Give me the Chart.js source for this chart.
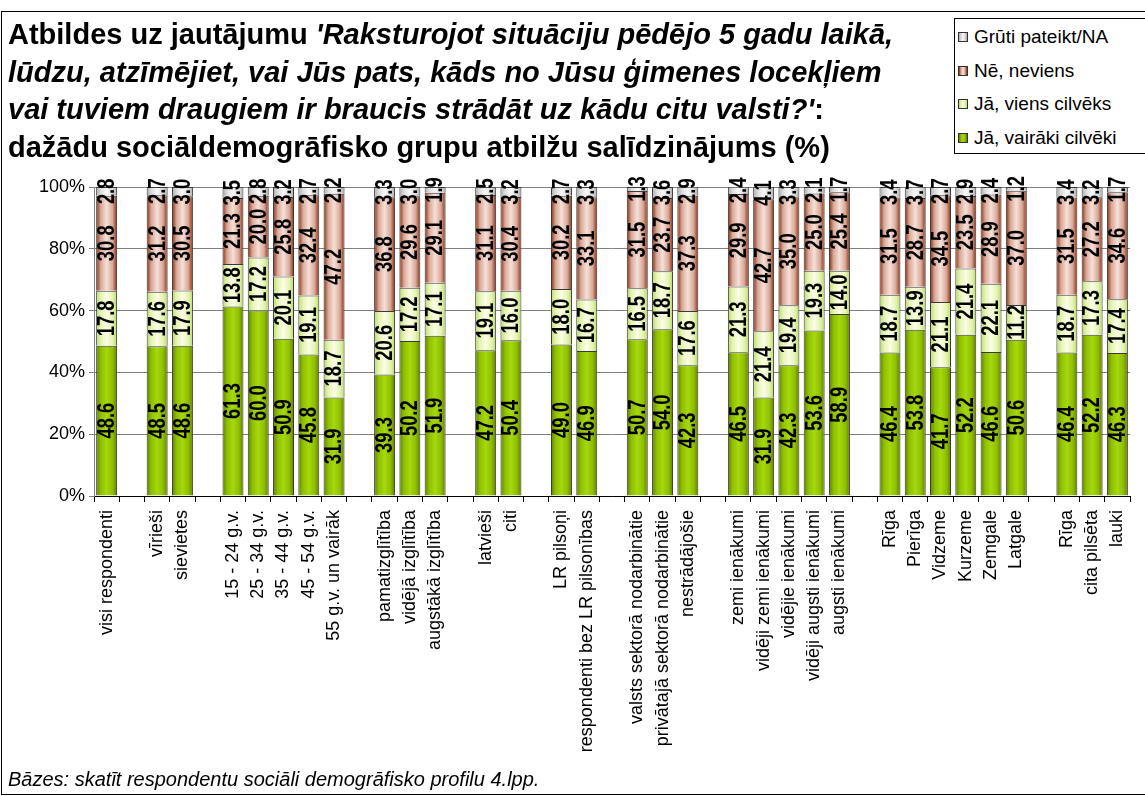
<!DOCTYPE html>
<html>
<head>
<meta charset="utf-8">
<script src="https://cdn.jsdelivr.net/npm/chart.js@4/dist/chart.umd.min.js"></script>
<style>
body{margin:0;overflow:hidden;background:#fff;font-family:Arial,"Liberation Sans",sans-serif;}
#wrap{position:relative;width:1145px;height:796px;overflow:hidden;}
#ramis{position:absolute;left:1px;top:11px;width:1200px;height:782px;border:1px solid #000;}
#grafiks{position:absolute;left:0;top:0;}
#virsraksts{position:absolute;left:8px;top:16px;font-weight:bold;font-size:29px;line-height:37.5px;white-space:nowrap;color:#000;}
#legenda{position:absolute;left:954px;top:18px;width:250px;height:134px;border:1px solid #000;background:#fff;}
.rinda{position:absolute;left:3px;height:20px;font-size:19px;line-height:20px;white-space:nowrap;}
.rinda span.kv{display:inline-block;width:8px;height:8px;border:1px solid #333;margin-right:6px;vertical-align:1px;}
#piezime{position:absolute;left:8px;top:768px;font-style:italic;font-size:20px;line-height:23px;white-space:nowrap;}
</style>
</head>
<body>
<div id="wrap">
<div id="ramis"></div>
<canvas id="grafiks" width="1147" height="796"></canvas>
<div id="virsraksts">
<div>Atbildes uz jautājumu <i>'Raksturojot situāciju pēdējo 5 gadu laikā,</i></div>
<div><i>lūdzu, atzīmējiet, vai Jūs pats, kāds no Jūsu ģimenes locekļiem</i></div>
<div><i>vai tuviem draugiem ir braucis strādāt uz kādu citu valsti?'</i>:</div>
<div>dažādu sociāldemogrāfisko grupu atbilžu salīdzinājums (%)</div>
</div>
<div id="legenda"></div>
<div id="piezime">Bāzes: skatīt respondentu sociāli demogrāfisko profilu 4.lpp.</div>
</div>
<script>
// kategorijas ('' = tukša vieta starp grupām)
const kategorijas = [
  'visi respondenti', '',
  'vīrieši', 'sievietes', '',
  '15 - 24 g.v.', '25 - 34 g.v.', '35 - 44 g.v.', '45 - 54 g.v.', '55 g.v. un vairāk', '',
  'pamatizglītība', 'vidējā izglītība', 'augstākā izglītība', '',
  'latvieši', 'citi', '',
  'LR pilsoņi', 'respondenti bez LR pilsonības', '',
  'valsts sektorā nodarbinātie', 'privātajā sektorā nodarbinātie', 'nestrādājošie', '',
  'zemi ienākumi', 'vidēji zemi ienākumi', 'vidējie ienākumi', 'vidēji augsti ienākumi', 'augsti ienākumi', '',
  'Rīga', 'Pierīga', 'Vidzeme', 'Kurzeme', 'Zemgale', 'Latgale', '',
  'Rīga', 'cita pilsēta', 'lauki'
];

const vairaki = [48.6, null, 48.5, 48.6, null, 61.3, 60.0, 50.9, 45.8, 31.9, null, 39.3, 50.2, 51.9, null,
  47.2, 50.4, null, 49.0, 46.9, null, 50.7, 54.0, 42.3, null, 46.5, 31.9, 42.3, 53.6, 58.9, null,
  46.4, 53.8, 41.7, 52.2, 46.6, 50.6, null, 46.4, 52.2, 46.3];
const viens = [17.8, null, 17.6, 17.9, null, 13.8, 17.2, 20.1, 19.1, 18.7, null, 20.6, 17.2, 17.1, null,
  19.1, 16.0, null, 18.0, 16.7, null, 16.5, 18.7, 17.6, null, 21.3, 21.4, 19.4, 19.3, 14.0, null,
  18.7, 13.9, 21.1, 21.4, 22.1, 11.2, null, 18.7, 17.3, 17.4];
const neviens = [30.8, null, 31.2, 30.5, null, 21.3, 20.0, 25.8, 32.4, 47.2, null, 36.8, 29.6, 29.1, null,
  31.1, 30.4, null, 30.2, 33.1, null, 31.5, 23.7, 37.3, null, 29.9, 42.7, 35.0, 25.0, 25.4, null,
  31.5, 28.7, 34.5, 23.5, 28.9, 37.0, null, 31.5, 27.2, 34.6];
const gruti = [2.8, null, 2.7, 3.0, null, 3.5, 2.8, 3.2, 2.7, 2.2, null, 3.3, 3.0, 1.9, null,
  2.5, 3.2, null, 2.7, 3.3, null, 1.3, 3.6, 2.9, null, 2.4, 4.1, 3.3, 2.1, 1.7, null,
  3.4, 3.7, 2.7, 2.9, 2.4, 1.2, null, 3.4, 3.2, 1.7];

const yTicks = [0, 20, 40, 60, 80, 100];

const joslasDala = 0.83;

// malas -> vidus -> malas
const kVairaki = ['#5f7f00', '#8fbf00', '#a6d80e', '#8fbf00', '#5f7f00'];
const kViens = ['#b8d86a', '#e4f4b0', '#fbfde8', '#e4f4b0', '#b8d86a'];
const kNeviens = ['#8a2a08', '#d8a898', '#f6e0d8', '#d8a898', '#8a2a08'];
const kGruti = ['#a8a8a8', '#dcdcdc', '#f8f8f8', '#dcdcdc', '#a8a8a8'];

function svitras(c, krasas) {
  const chart = c.chart;
  const x = chart.scales.x;
  if (c.dataIndex === undefined || !x || !chart.chartArea) return krasas[1];
  const solis = (x.right - x.left) / kategorijas.length;
  const centrs = x.getPixelForValue(c.dataIndex);
  const plat = solis * joslasDala;
  const g = chart.ctx.createLinearGradient(centrs - plat / 2, 0, centrs + plat / 2, 0);
  g.addColorStop(0, krasas[0]);
  g.addColorStop(0.22, krasas[1]);
  g.addColorStop(0.5, krasas[2]);
  g.addColorStop(0.78, krasas[1]);
  g.addColorStop(1, krasas[4]);
  return g;
}

// skaitļi joslās: šaurs treknraksts, pagriezts
const vertibuUzraksti = {
  id: 'vertibuUzraksti',
  afterDatasetsDraw(chart) {
    const ctx = chart.ctx;
    ctx.save();
    ctx.font = 'bold 23px Arial, "Liberation Sans"';
    ctx.fillStyle = '#000';
    ctx.textAlign = 'center';
    ctx.textBaseline = 'middle';
    chart.data.datasets.forEach((ds, di) => {
      const meta = chart.getDatasetMeta(di);
      meta.data.forEach((el, i) => {
        const v = ds.data[i];
        if (v == null) return;
        const y = (el.y + el.base) / 2;
        ctx.save();
        ctx.translate(el.x + 1, y);
        ctx.rotate(-Math.PI / 2);
        ctx.scale(0.8, 1);
        ctx.fillText(v.toFixed(1), 0, 0);
        ctx.restore();
      });
    });
    ctx.restore();
  }
};

const serijas = [
  { label: 'Jā, vairāki cilvēki', data: vairaki, krasas: kVairaki },
  { label: 'Jā, viens cilvēks', data: viens, krasas: kViens },
  { label: 'Nē, neviens', data: neviens, krasas: kNeviens },
  { label: 'Grūti pateikt/NA', data: gruti, krasas: kGruti }
];

new Chart(document.getElementById('grafiks'), {
  type: 'bar',
  data: {
    labels: kategorijas,
    datasets: serijas.map(s => ({
      label: s.label,
      data: s.data,
      backgroundColor: c => svitras(c, s.krasas),
      borderColor: '#3a3a3a',
      borderWidth: 1,
      barPercentage: joslasDala,
      categoryPercentage: 1
    }))
  },
  options: {
    responsive: false,
    animation: false,
    devicePixelRatio: 1,
    layout: { padding: { top: 187, left: 0, right: 0, bottom: 0 } },
    plugins: { legend: { display: false }, tooltip: { enabled: false }, title: { display: false } },
    scales: {
      x: {
        stacked: true,
        afterFit: s => { s.height = 300; },
        grid: { offset: true, drawOnChartArea: false, drawTicks: true, tickLength: 6, color: '#000' },
        border: { color: '#000' },
        ticks: {
          autoSkip: false, maxRotation: 90, minRotation: 90, padding: 8,
          color: '#000', font: { family: 'Arial, "Liberation Sans"', size: 18 }
        }
      },
      y: {
        stacked: true,
        min: 0, max: 100,
        afterFit: s => { s.width = 94; },
        afterBuildTicks: s => { s.ticks = yTicks.map(v => ({ value: v })); },
        grid: { color: '#808080', tickLength: 5 },
        border: { color: '#808080' },
        ticks: {
          padding: 4, color: '#000',
          font: { family: 'Arial, "Liberation Sans"', size: 18 },
          callback: v => v + '%'
        }
      }
    }
  },
  plugins: [vertibuUzraksti]
});

// leģenda
const legenda = document.getElementById('legenda');
[...serijas].reverse().forEach((s, i) => {
  const r = document.createElement('div');
  r.className = 'rinda';
  r.style.top = (8 + i * 33.7) + 'px';
  const kv = document.createElement('span');
  kv.className = 'kv';
  kv.style.background = 'linear-gradient(to right,' + s.krasas.join(',') + ')';
  r.appendChild(kv);
  r.appendChild(document.createTextNode(s.label));
  legenda.appendChild(r);
});
</script>
</body>
</html>
